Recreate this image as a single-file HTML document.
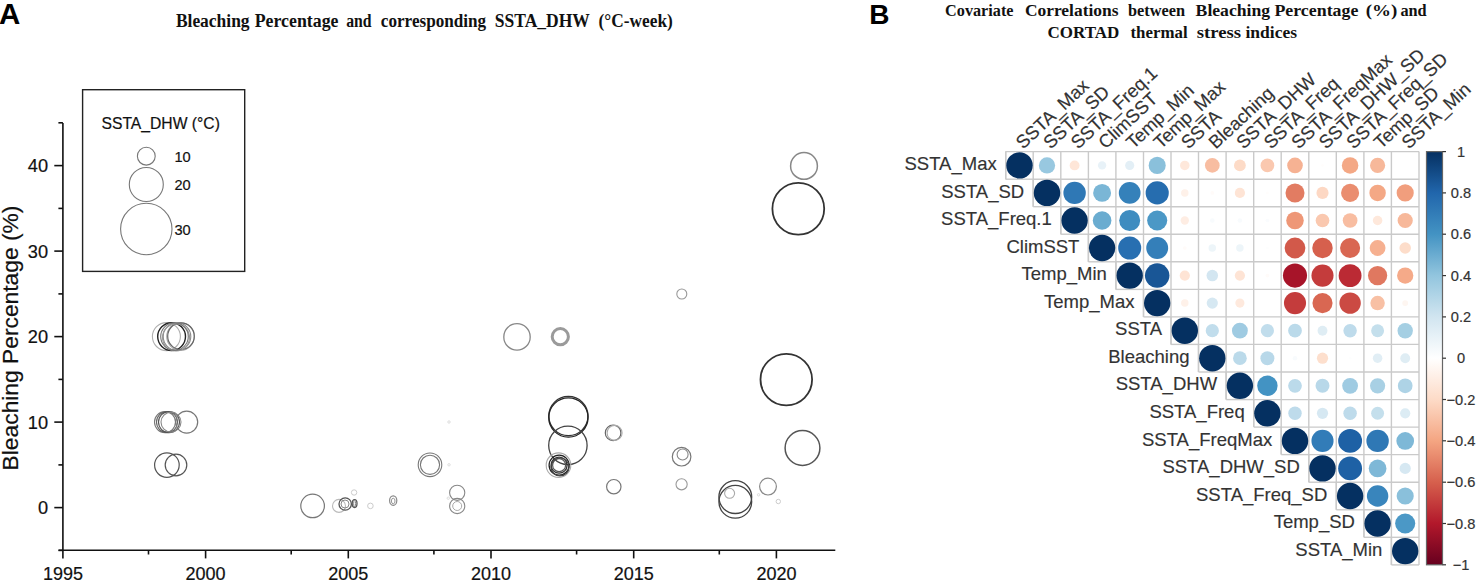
<!DOCTYPE html>
<html><head><meta charset="utf-8"><style>
html,body{margin:0;padding:0;background:#fff;width:1476px;height:580px;overflow:hidden}
svg{display:block}
</style></head><body>
<svg width="1476" height="580" viewBox="0 0 1476 580">
<rect width="1476" height="580" fill="#fff"/>
<text x="-1" y="24.4" font-family='"Liberation Sans", sans-serif' font-weight="bold" font-size="29.5" fill="#000">A</text>
<text x="175.9" y="27" font-family='"Liberation Serif", serif' font-weight="bold" font-size="18.4" textLength="73.7" lengthAdjust="spacingAndGlyphs" fill="#111">Bleaching</text>
<text x="254.7" y="27" font-family='"Liberation Serif", serif' font-weight="bold" font-size="18.4" textLength="83.8" lengthAdjust="spacingAndGlyphs" fill="#111">Percentage</text>
<text x="346.2" y="27" font-family='"Liberation Serif", serif' font-weight="bold" font-size="18.4" textLength="25.4" lengthAdjust="spacingAndGlyphs" fill="#111">and</text>
<text x="380.8" y="27" font-family='"Liberation Serif", serif' font-weight="bold" font-size="18.4" textLength="105.4" lengthAdjust="spacingAndGlyphs" fill="#111">corresponding</text>
<text x="494.8" y="27" font-family='"Liberation Serif", serif' font-weight="bold" font-size="18.4" textLength="95.0" lengthAdjust="spacingAndGlyphs" fill="#111">SSTA_DHW</text>
<text x="598.5" y="27" font-family='"Liberation Serif", serif' font-weight="bold" font-size="18.4" textLength="74.3" lengthAdjust="spacingAndGlyphs" fill="#111">(°C-week)</text>
<g stroke="#111" stroke-width="1.6" fill="none">
<path d="M62.9 123 V550.3 M58.6 550.3 H835.3"/>
<path d="M54.3 507.6 H62.9"/>
<path d="M54.3 422.1 H62.9"/>
<path d="M54.3 336.6 H62.9"/>
<path d="M54.3 251.1 H62.9"/>
<path d="M54.3 165.6 H62.9"/>
<path d="M58.4 550.4 H62.9"/>
<path d="M58.4 464.9 H62.9"/>
<path d="M58.4 379.4 H62.9"/>
<path d="M58.4 293.9 H62.9"/>
<path d="M58.4 208.4 H62.9"/>
<path d="M58.4 122.8 H62.9"/>
<path d="M62.9 550.3 V558.4"/>
<path d="M205.6 550.3 V558.4"/>
<path d="M348.3 550.3 V558.4"/>
<path d="M491.0 550.3 V558.4"/>
<path d="M633.7 550.3 V558.4"/>
<path d="M776.4 550.3 V558.4"/>
<path d="M148.5 550.3 V554.5"/>
<path d="M291.2 550.3 V554.5"/>
<path d="M433.9 550.3 V554.5"/>
<path d="M576.6 550.3 V554.5"/>
<path d="M719.3 550.3 V554.5"/>
</g>
<text x="48" y="514.0" text-anchor="end" font-family='"Liberation Sans", sans-serif' font-size="18.2" fill="#111" stroke="#111" stroke-width="0.2">0</text>
<text x="48" y="428.5" text-anchor="end" font-family='"Liberation Sans", sans-serif' font-size="18.2" fill="#111" stroke="#111" stroke-width="0.2">10</text>
<text x="48" y="343.0" text-anchor="end" font-family='"Liberation Sans", sans-serif' font-size="18.2" fill="#111" stroke="#111" stroke-width="0.2">20</text>
<text x="48" y="257.5" text-anchor="end" font-family='"Liberation Sans", sans-serif' font-size="18.2" fill="#111" stroke="#111" stroke-width="0.2">30</text>
<text x="48" y="172.0" text-anchor="end" font-family='"Liberation Sans", sans-serif' font-size="18.2" fill="#111" stroke="#111" stroke-width="0.2">40</text>
<text x="62.9" y="580" text-anchor="middle" font-family='"Liberation Sans", sans-serif' font-size="18" fill="#111" stroke="#111" stroke-width="0.2">1995</text>
<text x="205.6" y="580" text-anchor="middle" font-family='"Liberation Sans", sans-serif' font-size="18" fill="#111" stroke="#111" stroke-width="0.2">2000</text>
<text x="348.3" y="580" text-anchor="middle" font-family='"Liberation Sans", sans-serif' font-size="18" fill="#111" stroke="#111" stroke-width="0.2">2005</text>
<text x="491.0" y="580" text-anchor="middle" font-family='"Liberation Sans", sans-serif' font-size="18" fill="#111" stroke="#111" stroke-width="0.2">2010</text>
<text x="633.7" y="580" text-anchor="middle" font-family='"Liberation Sans", sans-serif' font-size="18" fill="#111" stroke="#111" stroke-width="0.2">2015</text>
<text x="776.4" y="580" text-anchor="middle" font-family='"Liberation Sans", sans-serif' font-size="18" fill="#111" stroke="#111" stroke-width="0.2">2020</text>
<text transform="translate(17.8 470.4) rotate(-90)" x="0" y="0" font-family='"Liberation Sans", sans-serif' font-size="22.8" fill="#111" stroke="#111" stroke-width="0.2">Bleaching Percentage (%)</text>
<rect x="82.6" y="89.7" width="162.1" height="181.7" fill="none" stroke="#222" stroke-width="1.4"/>
<text x="101.5" y="128.6" font-family='"Liberation Sans", sans-serif' font-size="15.7" fill="#111" stroke="#111" stroke-width="0.2">SSTA_DHW (°C)</text>
<circle cx="146.3" cy="156.2" r="8.9" fill="none" stroke="#777" stroke-width="1.1"/>
<text x="174.5" y="162.1" font-family='"Liberation Sans", sans-serif' font-size="14.6" fill="#111" stroke="#111" stroke-width="0.2">10</text>
<circle cx="146.3" cy="184.5" r="17" fill="none" stroke="#777" stroke-width="1.1"/>
<text x="174.5" y="190.4" font-family='"Liberation Sans", sans-serif' font-size="14.6" fill="#111" stroke="#111" stroke-width="0.2">20</text>
<circle cx="146.3" cy="229" r="25.7" fill="none" stroke="#777" stroke-width="1.1"/>
<text x="174.5" y="234.9" font-family='"Liberation Sans", sans-serif' font-size="14.6" fill="#111" stroke="#111" stroke-width="0.2">30</text>
<g fill="none">
<circle cx="166.4" cy="336.6" r="14" stroke="#b0b0b0" stroke-width="1.1"/>
<circle cx="171.6" cy="336.6" r="13.9" stroke="#222" stroke-width="1.4"/>
<circle cx="177" cy="336.6" r="13.8" stroke="#888" stroke-width="1.1"/>
<circle cx="180.5" cy="336.6" r="13.8" stroke="#aaa" stroke-width="1.1"/>
<circle cx="181" cy="336.2" r="13.3" stroke="#666" stroke-width="1.2"/>
<circle cx="176" cy="337.5" r="13.5" stroke="#999" stroke-width="1.1"/>
<circle cx="174.5" cy="336.6" r="13.8" stroke="#777" stroke-width="1.1"/>
<circle cx="165" cy="422.1" r="10.5" stroke="#777" stroke-width="1.1"/>
<circle cx="167" cy="422.1" r="10.5" stroke="#666" stroke-width="1.1"/>
<circle cx="169" cy="422.1" r="10.5" stroke="#555" stroke-width="1.1"/>
<circle cx="171" cy="422.1" r="10" stroke="#888" stroke-width="1.1"/>
<circle cx="186.7" cy="422.1" r="11" stroke="#777" stroke-width="1.2"/>
<circle cx="166.9" cy="465.1" r="12.3" stroke="#555" stroke-width="1.2"/>
<circle cx="176" cy="465" r="10.8" stroke="#555" stroke-width="1.2"/>
<circle cx="312.6" cy="505.9" r="11.8" stroke="#777" stroke-width="1.2"/>
<circle cx="339" cy="505.9" r="6.5" stroke="#bbb" stroke-width="1.1"/>
<circle cx="345.2" cy="504" r="6.2" stroke="#555" stroke-width="1.3"/>
<circle cx="345" cy="504" r="4" stroke="#888" stroke-width="1"/>
<circle cx="354.1" cy="492.5" r="2.7" stroke="#ccc" stroke-width="1"/>
<circle cx="370.4" cy="505.9" r="2.8" stroke="#ccc" stroke-width="1"/>
<circle cx="430" cy="464.8" r="11.8" stroke="#777" stroke-width="1.1"/>
<circle cx="430" cy="464.8" r="9.6" stroke="#777" stroke-width="1.1"/>
<circle cx="457.2" cy="492.8" r="7.6" stroke="#888" stroke-width="1.1"/>
<circle cx="457.2" cy="506" r="7.6" stroke="#888" stroke-width="1.1"/>
<circle cx="457.2" cy="506" r="4.5" stroke="#aaa" stroke-width="1"/>
<circle cx="517" cy="336.9" r="13.2" stroke="#888" stroke-width="1.3"/>
<circle cx="560.3" cy="336.7" r="8.1" stroke="#9a9a9a" stroke-width="3"/>
<circle cx="568.4" cy="416" r="19.6" stroke="#333" stroke-width="1.3"/>
<circle cx="568.4" cy="417.5" r="19.6" stroke="#222" stroke-width="1.3"/>
<circle cx="567.9" cy="445.4" r="19.2" stroke="#444" stroke-width="1.3"/>
<circle cx="559.1" cy="465.2" r="10" stroke="#222" stroke-width="1.3"/>
<circle cx="559.1" cy="465.2" r="8" stroke="#333" stroke-width="1.3"/>
<circle cx="559.1" cy="465.2" r="6.5" stroke="#555" stroke-width="1.2"/>
<circle cx="558.5" cy="465.2" r="12.3" stroke="#aaa" stroke-width="1.1"/>
<circle cx="560" cy="467" r="9" stroke="#444" stroke-width="1.2"/>
<circle cx="681.8" cy="294" r="5" stroke="#999" stroke-width="1.1"/>
<circle cx="613.1" cy="432.9" r="7.8" stroke="#666" stroke-width="1.2"/>
<circle cx="614.6" cy="432.9" r="7.5" stroke="#aaa" stroke-width="1.1"/>
<circle cx="681.6" cy="456.7" r="9.3" stroke="#777" stroke-width="1.2"/>
<circle cx="682.6" cy="454.5" r="5.5" stroke="#888" stroke-width="1.1"/>
<circle cx="613.8" cy="486.7" r="7.2" stroke="#777" stroke-width="1.2"/>
<circle cx="681.6" cy="484.3" r="5.6" stroke="#999" stroke-width="1.1"/>
<circle cx="735.3" cy="497.1" r="16.4" stroke="#444" stroke-width="1.3"/>
<circle cx="735.3" cy="501.8" r="16.4" stroke="#444" stroke-width="1.3"/>
<circle cx="729.6" cy="493.3" r="5" stroke="#aaa" stroke-width="1.1"/>
<circle cx="768" cy="486.6" r="8.4" stroke="#888" stroke-width="1.2"/>
<circle cx="449" cy="464.8" r="1.2" stroke="#ddd" stroke-width="1"/>
<circle cx="449" cy="422" r="1.2" stroke="#ddd" stroke-width="1"/>
<circle cx="448.3" cy="498.2" r="1.2" stroke="#ddd" stroke-width="1"/>
<circle cx="758.6" cy="494.8" r="1.2" stroke="#ddd" stroke-width="1"/>
<circle cx="778.3" cy="501.5" r="2.2" stroke="#ccc" stroke-width="1"/>
<circle cx="804" cy="165.9" r="13.4" stroke="#888" stroke-width="1.5"/>
<circle cx="798.3" cy="208.8" r="25.9" stroke="#333" stroke-width="1.8"/>
<circle cx="786.3" cy="379.6" r="25.8" stroke="#333" stroke-width="1.8"/>
<circle cx="802.5" cy="448" r="17.4" stroke="#555" stroke-width="1.5"/>
<ellipse cx="354.6" cy="503.6" rx="2.4" ry="3.9" fill="none" stroke="#555" stroke-width="1.3"/>
<ellipse cx="354.6" cy="503.6" rx="1" ry="3" fill="none" stroke="#888" stroke-width="1"/>
<ellipse cx="393.2" cy="500.6" rx="3.6" ry="4.8" fill="none" stroke="#888" stroke-width="1.2"/>
<ellipse cx="393.2" cy="501" rx="1.8" ry="2.8" fill="none" stroke="#999" stroke-width="1"/>
</g>
<text x="869.3" y="24.2" font-family='"Liberation Sans", sans-serif' font-weight="bold" font-size="28" fill="#000">B</text>
<text x="945.1" y="16.4" font-family='"Liberation Serif", serif' font-weight="bold" font-size="17.3" textLength="68.4" lengthAdjust="spacingAndGlyphs" fill="#111">Covariate</text>
<text x="1024.9" y="16.4" font-family='"Liberation Serif", serif' font-weight="bold" font-size="17.3" textLength="93.6" lengthAdjust="spacingAndGlyphs" fill="#111">Correlations</text>
<text x="1128" y="16.4" font-family='"Liberation Serif", serif' font-weight="bold" font-size="17.3" textLength="57.1" lengthAdjust="spacingAndGlyphs" fill="#111">between</text>
<text x="1195.6" y="16.4" font-family='"Liberation Serif", serif' font-weight="bold" font-size="17.3" textLength="74.6" lengthAdjust="spacingAndGlyphs" fill="#111">Bleaching</text>
<text x="1274.4" y="16.4" font-family='"Liberation Serif", serif' font-weight="bold" font-size="17.3" textLength="84.0" lengthAdjust="spacingAndGlyphs" fill="#111">Percentage</text>
<text x="1365.7" y="16.4" font-family='"Liberation Serif", serif' font-weight="bold" font-size="17.3" textLength="31.6" lengthAdjust="spacingAndGlyphs" fill="#111">(%)</text>
<text x="1400.4" y="16.4" font-family='"Liberation Serif", serif' font-weight="bold" font-size="17.3" textLength="26.3" lengthAdjust="spacingAndGlyphs" fill="#111">and</text>
<text x="1047.6" y="37.8" font-family='"Liberation Serif", serif' font-weight="bold" font-size="17.3" textLength="71.8" lengthAdjust="spacingAndGlyphs" fill="#111">CORTAD</text>
<text x="1130.5" y="37.8" font-family='"Liberation Serif", serif' font-weight="bold" font-size="17.3" textLength="57.1" lengthAdjust="spacingAndGlyphs" fill="#111">thermal</text>
<text x="1196.7" y="37.8" font-family='"Liberation Serif", serif' font-weight="bold" font-size="17.3" textLength="44.3" lengthAdjust="spacingAndGlyphs" fill="#111">stress</text>
<text x="1245.5" y="37.8" font-family='"Liberation Serif", serif' font-weight="bold" font-size="17.3" textLength="51.6" lengthAdjust="spacingAndGlyphs" fill="#111">indices</text>
<g stroke="#cacaca" stroke-width="1.4" fill="none">
<path d="M1005.7 151.6 H1419.0"/>
<path d="M1033.2 179.2 H1419.0"/>
<path d="M1060.8 206.7 H1419.0"/>
<path d="M1088.4 234.2 H1419.0"/>
<path d="M1115.9 261.8 H1419.0"/>
<path d="M1143.5 289.4 H1419.0"/>
<path d="M1171.0 316.9 H1419.0"/>
<path d="M1198.5 344.4 H1419.0"/>
<path d="M1226.1 372.0 H1419.0"/>
<path d="M1253.7 399.6 H1419.0"/>
<path d="M1281.2 427.1 H1419.0"/>
<path d="M1308.8 454.6 H1419.0"/>
<path d="M1336.3 482.2 H1419.0"/>
<path d="M1363.9 509.8 H1419.0"/>
<path d="M1391.4 537.3 H1419.0"/>
<path d="M1005.7 151.6 V179.2"/>
<path d="M1033.2 151.6 V206.7"/>
<path d="M1060.8 151.6 V234.2"/>
<path d="M1088.4 151.6 V261.8"/>
<path d="M1115.9 151.6 V289.4"/>
<path d="M1143.5 151.6 V316.9"/>
<path d="M1171.0 151.6 V344.4"/>
<path d="M1198.5 151.6 V372.0"/>
<path d="M1226.1 151.6 V399.6"/>
<path d="M1253.7 151.6 V427.1"/>
<path d="M1281.2 151.6 V454.6"/>
<path d="M1308.8 151.6 V482.2"/>
<path d="M1336.3 151.6 V509.8"/>
<path d="M1363.9 151.6 V537.3"/>
<path d="M1391.4 151.6 V564.9"/>
<path d="M1419.0 151.6 V564.9"/>
<path d="M1005.7 179.2 H1033.2"/>
<path d="M1005.7 151.6 V179.2"/>
<path d="M1033.2 206.7 H1060.8"/>
<path d="M1033.2 179.2 V206.7"/>
<path d="M1060.8 234.2 H1088.4"/>
<path d="M1060.8 206.7 V234.2"/>
<path d="M1088.4 261.8 H1115.9"/>
<path d="M1088.4 234.2 V261.8"/>
<path d="M1115.9 289.4 H1143.5"/>
<path d="M1115.9 261.8 V289.4"/>
<path d="M1143.5 316.9 H1171.0"/>
<path d="M1143.5 289.4 V316.9"/>
<path d="M1171.0 344.4 H1198.5"/>
<path d="M1171.0 316.9 V344.4"/>
<path d="M1198.5 372.0 H1226.1"/>
<path d="M1198.5 344.4 V372.0"/>
<path d="M1226.1 399.6 H1253.7"/>
<path d="M1226.1 372.0 V399.6"/>
<path d="M1253.7 427.1 H1281.2"/>
<path d="M1253.7 399.6 V427.1"/>
<path d="M1281.2 454.6 H1308.8"/>
<path d="M1281.2 427.1 V454.6"/>
<path d="M1308.8 482.2 H1336.3"/>
<path d="M1308.8 454.6 V482.2"/>
<path d="M1336.3 509.8 H1363.9"/>
<path d="M1336.3 482.2 V509.8"/>
<path d="M1363.9 537.3 H1391.4"/>
<path d="M1363.9 509.8 V537.3"/>
<path d="M1391.4 564.9 H1419.0"/>
<path d="M1391.4 537.3 V564.9"/>
</g>
<circle cx="1019.5" cy="165.4" r="13.20" fill="#053061"/>
<circle cx="1047.0" cy="165.4" r="8.14" fill="#98c8e0"/>
<circle cx="1074.6" cy="165.4" r="4.94" fill="#fee6d8"/>
<circle cx="1102.1" cy="165.4" r="4.17" fill="#e8f2f8"/>
<circle cx="1129.7" cy="165.4" r="4.57" fill="#e3eff6"/>
<circle cx="1157.2" cy="165.4" r="8.55" fill="#8ac0db"/>
<circle cx="1184.8" cy="165.4" r="4.76" fill="#fee8db"/>
<circle cx="1212.3" cy="165.4" r="7.35" fill="#f8bda1"/>
<circle cx="1239.9" cy="165.4" r="5.90" fill="#fddbc7"/>
<circle cx="1267.4" cy="165.4" r="6.86" fill="#fac8af"/>
<circle cx="1295.0" cy="165.4" r="7.81" fill="#f6b293"/>
<circle cx="1322.5" cy="165.4" r="1.32" fill="#fffdfc"/>
<circle cx="1350.1" cy="165.4" r="8.24" fill="#f4a885"/>
<circle cx="1377.6" cy="165.4" r="7.58" fill="#f7b89a"/>
<circle cx="1047.0" cy="192.9" r="13.20" fill="#053061"/>
<circle cx="1074.6" cy="192.9" r="11.20" fill="#2f78b5"/>
<circle cx="1102.1" cy="192.9" r="8.95" fill="#7ab6d6"/>
<circle cx="1129.7" cy="192.9" r="10.88" fill="#3581ba"/>
<circle cx="1157.2" cy="192.9" r="11.58" fill="#266daf"/>
<circle cx="1184.8" cy="192.9" r="3.73" fill="#fef1e9"/>
<circle cx="1212.3" cy="192.9" r="1.87" fill="#fffbf9"/>
<circle cx="1239.9" cy="192.9" r="5.11" fill="#fee4d5"/>
<circle cx="1267.4" cy="192.9" r="1.32" fill="#fffdfc"/>
<circle cx="1295.0" cy="192.9" r="9.52" fill="#e27c62"/>
<circle cx="1322.5" cy="192.9" r="6.05" fill="#fdd8c4"/>
<circle cx="1350.1" cy="192.9" r="9.05" fill="#ea8d6f"/>
<circle cx="1377.6" cy="192.9" r="8.24" fill="#f4a885"/>
<circle cx="1405.2" cy="192.9" r="8.55" fill="#f19e7d"/>
<circle cx="1074.6" cy="220.5" r="13.20" fill="#053061"/>
<circle cx="1102.1" cy="220.5" r="9.33" fill="#6aacd0"/>
<circle cx="1129.7" cy="220.5" r="10.48" fill="#3e8cc0"/>
<circle cx="1157.2" cy="220.5" r="10.05" fill="#4b98c6"/>
<circle cx="1184.8" cy="220.5" r="4.17" fill="#feede3"/>
<circle cx="1212.3" cy="220.5" r="2.29" fill="#f8fbfd"/>
<circle cx="1239.9" cy="220.5" r="2.29" fill="#f8fbfd"/>
<circle cx="1267.4" cy="220.5" r="1.87" fill="#fafcfe"/>
<circle cx="1295.0" cy="220.5" r="8.76" fill="#ee9777"/>
<circle cx="1322.5" cy="220.5" r="6.86" fill="#fac8af"/>
<circle cx="1350.1" cy="220.5" r="7.35" fill="#f8bda1"/>
<circle cx="1377.6" cy="220.5" r="4.76" fill="#fee8db"/>
<circle cx="1405.2" cy="220.5" r="7.58" fill="#f7b89a"/>
<circle cx="1102.1" cy="248.0" r="13.20" fill="#053061"/>
<circle cx="1129.7" cy="248.0" r="11.51" fill="#286fb1"/>
<circle cx="1157.2" cy="248.0" r="10.96" fill="#347fb9"/>
<circle cx="1184.8" cy="248.0" r="1.87" fill="#fffbf9"/>
<circle cx="1212.3" cy="248.0" r="3.73" fill="#edf5f9"/>
<circle cx="1239.9" cy="248.0" r="3.73" fill="#edf5f9"/>
<circle cx="1267.4" cy="248.0" r="1.32" fill="#fdfefe"/>
<circle cx="1295.0" cy="248.0" r="10.39" fill="#d2594a"/>
<circle cx="1322.5" cy="248.0" r="10.22" fill="#d6604d"/>
<circle cx="1350.1" cy="248.0" r="10.05" fill="#d96752"/>
<circle cx="1377.6" cy="248.0" r="7.92" fill="#f6b090"/>
<circle cx="1405.2" cy="248.0" r="5.75" fill="#fdddca"/>
<circle cx="1129.7" cy="275.6" r="13.20" fill="#053061"/>
<circle cx="1157.2" cy="275.6" r="12.24" fill="#195696"/>
<circle cx="1184.8" cy="275.6" r="5.11" fill="#fee4d5"/>
<circle cx="1212.3" cy="275.6" r="5.75" fill="#d3e6f1"/>
<circle cx="1239.9" cy="275.6" r="5.11" fill="#fee4d5"/>
<circle cx="1267.4" cy="275.6" r="1.87" fill="#fffbf9"/>
<circle cx="1295.0" cy="275.6" r="12.03" fill="#a71429"/>
<circle cx="1322.5" cy="275.6" r="11.04" fill="#c43c3c"/>
<circle cx="1350.1" cy="275.6" r="11.43" fill="#bb2a34"/>
<circle cx="1377.6" cy="275.6" r="9.61" fill="#e07860"/>
<circle cx="1405.2" cy="275.6" r="8.14" fill="#f5aa89"/>
<circle cx="1157.2" cy="303.1" r="13.20" fill="#053061"/>
<circle cx="1184.8" cy="303.1" r="3.73" fill="#fef1e9"/>
<circle cx="1212.3" cy="303.1" r="5.60" fill="#d6e8f2"/>
<circle cx="1239.9" cy="303.1" r="4.57" fill="#fee9dd"/>
<circle cx="1295.0" cy="303.1" r="11.04" fill="#c43c3c"/>
<circle cx="1322.5" cy="303.1" r="10.05" fill="#d96752"/>
<circle cx="1350.1" cy="303.1" r="10.72" fill="#cb4a43"/>
<circle cx="1377.6" cy="303.1" r="7.23" fill="#f8c0a4"/>
<circle cx="1405.2" cy="303.1" r="2.95" fill="#fef6f1"/>
<circle cx="1184.8" cy="330.7" r="13.20" fill="#053061"/>
<circle cx="1212.3" cy="330.7" r="6.60" fill="#c1ddec"/>
<circle cx="1239.9" cy="330.7" r="7.92" fill="#9fcbe2"/>
<circle cx="1267.4" cy="330.7" r="6.60" fill="#c1ddec"/>
<circle cx="1295.0" cy="330.7" r="6.86" fill="#bbdaea"/>
<circle cx="1322.5" cy="330.7" r="4.94" fill="#dfedf4"/>
<circle cx="1350.1" cy="330.7" r="6.73" fill="#bedbeb"/>
<circle cx="1377.6" cy="330.7" r="6.47" fill="#c4dfec"/>
<circle cx="1405.2" cy="330.7" r="7.70" fill="#a5cfe3"/>
<circle cx="1212.3" cy="358.2" r="13.20" fill="#053061"/>
<circle cx="1239.9" cy="358.2" r="6.86" fill="#bbdaea"/>
<circle cx="1267.4" cy="358.2" r="6.98" fill="#b8d8e9"/>
<circle cx="1295.0" cy="358.2" r="2.29" fill="#f8fbfd"/>
<circle cx="1322.5" cy="358.2" r="5.60" fill="#fddfcd"/>
<circle cx="1350.1" cy="358.2" r="1.32" fill="#fdfefe"/>
<circle cx="1377.6" cy="358.2" r="4.76" fill="#e1eef5"/>
<circle cx="1405.2" cy="358.2" r="4.94" fill="#dfedf4"/>
<circle cx="1239.9" cy="385.8" r="13.20" fill="#053061"/>
<circle cx="1267.4" cy="385.8" r="10.22" fill="#4393c3"/>
<circle cx="1295.0" cy="385.8" r="6.86" fill="#bbdaea"/>
<circle cx="1322.5" cy="385.8" r="6.98" fill="#b8d8e9"/>
<circle cx="1350.1" cy="385.8" r="7.92" fill="#9fcbe2"/>
<circle cx="1377.6" cy="385.8" r="7.58" fill="#a8d0e4"/>
<circle cx="1405.2" cy="385.8" r="7.35" fill="#aed3e6"/>
<circle cx="1267.4" cy="413.3" r="13.20" fill="#053061"/>
<circle cx="1295.0" cy="413.3" r="6.73" fill="#bedbeb"/>
<circle cx="1322.5" cy="413.3" r="5.60" fill="#d6e8f2"/>
<circle cx="1350.1" cy="413.3" r="6.73" fill="#bedbeb"/>
<circle cx="1377.6" cy="413.3" r="6.47" fill="#c4dfec"/>
<circle cx="1405.2" cy="413.3" r="5.11" fill="#dcecf4"/>
<circle cx="1295.0" cy="440.9" r="13.20" fill="#053061"/>
<circle cx="1322.5" cy="440.9" r="11.04" fill="#327cb8"/>
<circle cx="1350.1" cy="440.9" r="11.95" fill="#1e61a5"/>
<circle cx="1377.6" cy="440.9" r="11.20" fill="#2f78b5"/>
<circle cx="1405.2" cy="440.9" r="8.85" fill="#7eb8d7"/>
<circle cx="1322.5" cy="468.4" r="13.20" fill="#053061"/>
<circle cx="1350.1" cy="468.4" r="11.95" fill="#1e61a5"/>
<circle cx="1377.6" cy="468.4" r="8.85" fill="#7eb8d7"/>
<circle cx="1405.2" cy="468.4" r="5.60" fill="#d6e8f2"/>
<circle cx="1350.1" cy="496.0" r="13.20" fill="#053061"/>
<circle cx="1377.6" cy="496.0" r="10.72" fill="#3985bc"/>
<circle cx="1405.2" cy="496.0" r="8.55" fill="#8ac0db"/>
<circle cx="1377.6" cy="523.5" r="13.20" fill="#053061"/>
<circle cx="1405.2" cy="523.5" r="10.05" fill="#4b98c6"/>
<circle cx="1405.2" cy="551.1" r="13.20" fill="#053061"/>
<text x="996.7" y="170.0" text-anchor="end" font-family='"Liberation Sans", sans-serif' font-size="18.5" fill="#333" stroke="#333" stroke-width="0.15">SSTA_Max</text>
<text x="1024.2" y="197.5" text-anchor="end" font-family='"Liberation Sans", sans-serif' font-size="18.5" fill="#333" stroke="#333" stroke-width="0.15">SSTA_SD</text>
<text x="1051.8" y="225.1" text-anchor="end" font-family='"Liberation Sans", sans-serif' font-size="18.5" fill="#333" stroke="#333" stroke-width="0.15">SSTA_Freq.1</text>
<text x="1079.4" y="252.6" text-anchor="end" font-family='"Liberation Sans", sans-serif' font-size="18.5" fill="#333" stroke="#333" stroke-width="0.15">ClimSST</text>
<text x="1106.9" y="280.2" text-anchor="end" font-family='"Liberation Sans", sans-serif' font-size="18.5" fill="#333" stroke="#333" stroke-width="0.15">Temp_Min</text>
<text x="1134.5" y="307.7" text-anchor="end" font-family='"Liberation Sans", sans-serif' font-size="18.5" fill="#333" stroke="#333" stroke-width="0.15">Temp_Max</text>
<text x="1162.0" y="335.3" text-anchor="end" font-family='"Liberation Sans", sans-serif' font-size="18.5" fill="#333" stroke="#333" stroke-width="0.15">SSTA</text>
<text x="1189.5" y="362.8" text-anchor="end" font-family='"Liberation Sans", sans-serif' font-size="18.5" fill="#333" stroke="#333" stroke-width="0.15">Bleaching</text>
<text x="1217.1" y="390.4" text-anchor="end" font-family='"Liberation Sans", sans-serif' font-size="18.5" fill="#333" stroke="#333" stroke-width="0.15">SSTA_DHW</text>
<text x="1244.7" y="417.9" text-anchor="end" font-family='"Liberation Sans", sans-serif' font-size="18.5" fill="#333" stroke="#333" stroke-width="0.15">SSTA_Freq</text>
<text x="1272.2" y="445.5" text-anchor="end" font-family='"Liberation Sans", sans-serif' font-size="18.5" fill="#333" stroke="#333" stroke-width="0.15">SSTA_FreqMax</text>
<text x="1299.8" y="473.0" text-anchor="end" font-family='"Liberation Sans", sans-serif' font-size="18.5" fill="#333" stroke="#333" stroke-width="0.15">SSTA_DHW_SD</text>
<text x="1327.3" y="500.6" text-anchor="end" font-family='"Liberation Sans", sans-serif' font-size="18.5" fill="#333" stroke="#333" stroke-width="0.15">SSTA_Freq_SD</text>
<text x="1354.9" y="528.1" text-anchor="end" font-family='"Liberation Sans", sans-serif' font-size="18.5" fill="#333" stroke="#333" stroke-width="0.15">Temp_SD</text>
<text x="1382.4" y="555.7" text-anchor="end" font-family='"Liberation Sans", sans-serif' font-size="18.5" fill="#333" stroke="#333" stroke-width="0.15">SSTA_Min</text>
<text transform="translate(1023.0 149.8) rotate(-43)" font-family='"Liberation Sans", sans-serif' font-size="18.4" fill="#333" stroke="#333" stroke-width="0.15">SSTA_Max</text>
<text transform="translate(1050.5 149.8) rotate(-43)" font-family='"Liberation Sans", sans-serif' font-size="18.4" fill="#333" stroke="#333" stroke-width="0.15">SSTA_SD</text>
<text transform="translate(1078.1 149.8) rotate(-43)" font-family='"Liberation Sans", sans-serif' font-size="18.4" fill="#333" stroke="#333" stroke-width="0.15">SSTA_Freq.1</text>
<text transform="translate(1105.6 149.8) rotate(-43)" font-family='"Liberation Sans", sans-serif' font-size="18.4" fill="#333" stroke="#333" stroke-width="0.15">ClimSST</text>
<text transform="translate(1133.2 149.8) rotate(-43)" font-family='"Liberation Sans", sans-serif' font-size="18.4" fill="#333" stroke="#333" stroke-width="0.15">Temp_Min</text>
<text transform="translate(1160.7 149.8) rotate(-43)" font-family='"Liberation Sans", sans-serif' font-size="18.4" fill="#333" stroke="#333" stroke-width="0.15">Temp_Max</text>
<text transform="translate(1188.3 149.8) rotate(-43)" font-family='"Liberation Sans", sans-serif' font-size="18.4" fill="#333" stroke="#333" stroke-width="0.15">SSTA</text>
<text transform="translate(1215.8 149.8) rotate(-43)" font-family='"Liberation Sans", sans-serif' font-size="18.4" fill="#333" stroke="#333" stroke-width="0.15">Bleaching</text>
<text transform="translate(1243.4 149.8) rotate(-43)" font-family='"Liberation Sans", sans-serif' font-size="18.4" fill="#333" stroke="#333" stroke-width="0.15">SSTA_DHW</text>
<text transform="translate(1270.9 149.8) rotate(-43)" font-family='"Liberation Sans", sans-serif' font-size="18.4" fill="#333" stroke="#333" stroke-width="0.15">SSTA_Freq</text>
<text transform="translate(1298.5 149.8) rotate(-43)" font-family='"Liberation Sans", sans-serif' font-size="18.4" fill="#333" stroke="#333" stroke-width="0.15">SSTA_FreqMax</text>
<text transform="translate(1326.0 149.8) rotate(-43)" font-family='"Liberation Sans", sans-serif' font-size="18.4" fill="#333" stroke="#333" stroke-width="0.15">SSTA_DHW_SD</text>
<text transform="translate(1353.6 149.8) rotate(-43)" font-family='"Liberation Sans", sans-serif' font-size="18.4" fill="#333" stroke="#333" stroke-width="0.15">SSTA_Freq_SD</text>
<text transform="translate(1381.1 149.8) rotate(-43)" font-family='"Liberation Sans", sans-serif' font-size="18.4" fill="#333" stroke="#333" stroke-width="0.15">Temp_SD</text>
<text transform="translate(1408.7 149.8) rotate(-43)" font-family='"Liberation Sans", sans-serif' font-size="18.4" fill="#333" stroke="#333" stroke-width="0.15">SSTA_Min</text>
<defs><linearGradient id="cb" x1="0" y1="0" x2="0" y2="1">
<stop offset="0.00" stop-color="#053061"/>
<stop offset="0.10" stop-color="#2166AC"/>
<stop offset="0.20" stop-color="#4393C3"/>
<stop offset="0.30" stop-color="#92C5DE"/>
<stop offset="0.40" stop-color="#D1E5F0"/>
<stop offset="0.50" stop-color="#FFFFFF"/>
<stop offset="0.60" stop-color="#FDDBC7"/>
<stop offset="0.70" stop-color="#F4A582"/>
<stop offset="0.80" stop-color="#D6604D"/>
<stop offset="0.90" stop-color="#B2182B"/>
<stop offset="1.00" stop-color="#67001F"/>
</linearGradient></defs>
<rect x="1426.5" y="151.6" width="16.0" height="413.19999999999993" fill="url(#cb)" stroke="#666" stroke-width="1.2"/>
<path d="M1442.5 151.6 H1446.0" stroke="#333" stroke-width="1.2"/>
<text x="1461" y="156.6" text-anchor="middle" font-family='"Liberation Sans", sans-serif' font-size="14.6" fill="#333" stroke="#333" stroke-width="0.2">1</text>
<path d="M1442.5 192.9 H1446.0" stroke="#333" stroke-width="1.2"/>
<text x="1461" y="197.9" text-anchor="middle" font-family='"Liberation Sans", sans-serif' font-size="14.6" fill="#333" stroke="#333" stroke-width="0.2">0.8</text>
<path d="M1442.5 234.2 H1446.0" stroke="#333" stroke-width="1.2"/>
<text x="1461" y="239.2" text-anchor="middle" font-family='"Liberation Sans", sans-serif' font-size="14.6" fill="#333" stroke="#333" stroke-width="0.2">0.6</text>
<path d="M1442.5 275.6 H1446.0" stroke="#333" stroke-width="1.2"/>
<text x="1461" y="280.6" text-anchor="middle" font-family='"Liberation Sans", sans-serif' font-size="14.6" fill="#333" stroke="#333" stroke-width="0.2">0.4</text>
<path d="M1442.5 316.9 H1446.0" stroke="#333" stroke-width="1.2"/>
<text x="1461" y="321.9" text-anchor="middle" font-family='"Liberation Sans", sans-serif' font-size="14.6" fill="#333" stroke="#333" stroke-width="0.2">0.2</text>
<path d="M1442.5 358.2 H1446.0" stroke="#333" stroke-width="1.2"/>
<text x="1461" y="363.2" text-anchor="middle" font-family='"Liberation Sans", sans-serif' font-size="14.6" fill="#333" stroke="#333" stroke-width="0.2">0</text>
<path d="M1442.5 399.5 H1446.0" stroke="#333" stroke-width="1.2"/>
<text x="1461" y="404.5" text-anchor="middle" font-family='"Liberation Sans", sans-serif' font-size="14.6" fill="#333" stroke="#333" stroke-width="0.2">−0.2</text>
<path d="M1442.5 440.8 H1446.0" stroke="#333" stroke-width="1.2"/>
<text x="1461" y="445.8" text-anchor="middle" font-family='"Liberation Sans", sans-serif' font-size="14.6" fill="#333" stroke="#333" stroke-width="0.2">−0.4</text>
<path d="M1442.5 482.2 H1446.0" stroke="#333" stroke-width="1.2"/>
<text x="1461" y="487.2" text-anchor="middle" font-family='"Liberation Sans", sans-serif' font-size="14.6" fill="#333" stroke="#333" stroke-width="0.2">−0.6</text>
<path d="M1442.5 523.5 H1446.0" stroke="#333" stroke-width="1.2"/>
<text x="1461" y="528.5" text-anchor="middle" font-family='"Liberation Sans", sans-serif' font-size="14.6" fill="#333" stroke="#333" stroke-width="0.2">−0.8</text>
<path d="M1442.5 564.8 H1446.0" stroke="#333" stroke-width="1.2"/>
<text x="1461" y="569.8" text-anchor="middle" font-family='"Liberation Sans", sans-serif' font-size="14.6" fill="#333" stroke="#333" stroke-width="0.2">−1</text>
</svg>
</body></html>
